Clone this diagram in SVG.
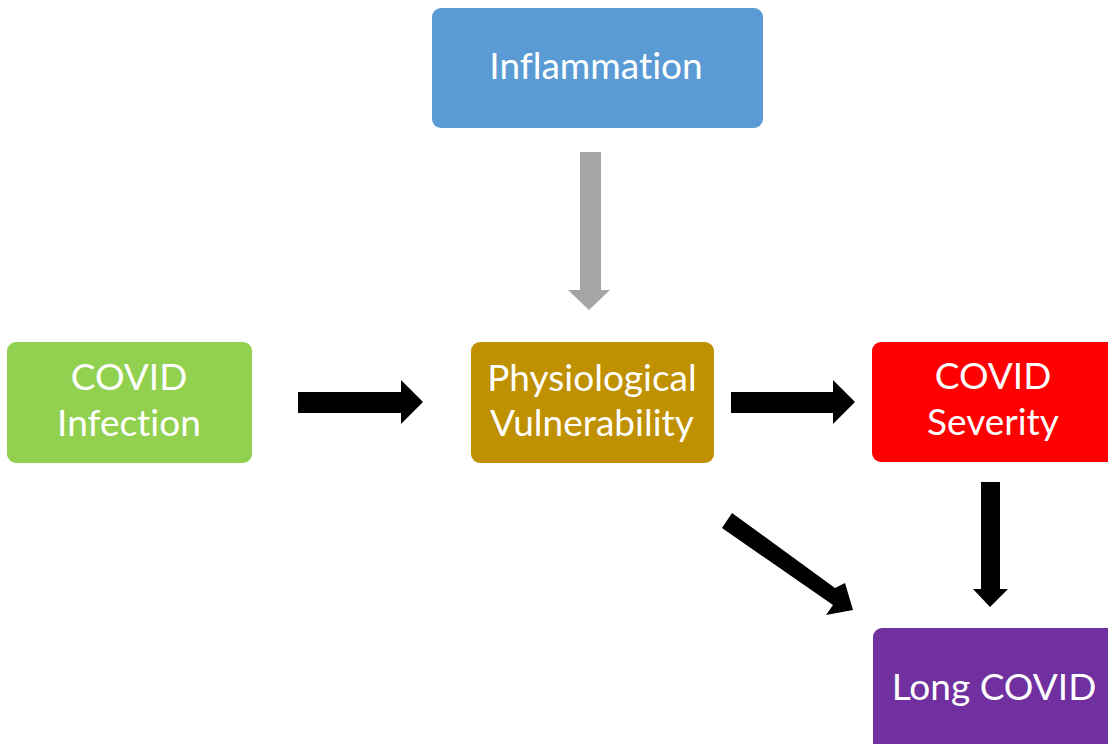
<svg xmlns="http://www.w3.org/2000/svg" width="1108" height="744" viewBox="0 0 1108 744">
<style>
.lbl{font-family:Lato,"Open Sans","Liberation Sans",sans-serif;font-size:37px;fill:#fff;text-anchor:middle;font-variant-ligatures:none}
</style>
<rect width="1108" height="744" fill="#fff"/>
<g id="inflammation"><rect x="432" y="8" width="331" height="120" rx="9" fill="#5B9BD5"/><text class="lbl" x="596" y="79">Inflammation</text></g>
<g id="covid-infection"><rect x="7" y="342" width="245" height="121" rx="9" fill="#92D050"/><text class="lbl" x="129" y="390">COVID</text><text class="lbl" x="129" y="436">Infection</text></g>
<g id="physiological"><rect x="471" y="342" width="243" height="121" rx="9" fill="#BF9000"/><text class="lbl" x="592" y="391">Physiological</text><text class="lbl" x="592" y="436">Vulnerability</text></g>
<g id="covid-severity"><rect x="872" y="342" width="250" height="120" rx="9" fill="#FF0000"/><text class="lbl" x="993" y="389">COVID</text><text class="lbl" x="993" y="435">Severity</text></g>
<g id="long-covid"><rect x="873" y="628" width="250" height="130" rx="9" fill="#7030A0"/><text class="lbl" x="994" y="700">Long COVID</text></g>
<g id="connectors">
<polygon fill="#A5A5A5" points="580,152 601,152 601,290 610,290 589,310 568,290 580,290"/>
<polygon fill="#000" points="298,392 401,392 401,380 423,402 401,424 401,413 298,413"/>
<polygon fill="#000" points="731,392 833,392 833,380 855,402 833,424 833,413 731,413"/>
<polygon fill="#000" points="981,482 1000,482 1000,589 1008,589 990,607 973,589 981,589"/>
<polygon fill="#000" points="732,513 835,588 845,583 853,610 826,615 833,605 722,528"/>
</g>
</svg>
